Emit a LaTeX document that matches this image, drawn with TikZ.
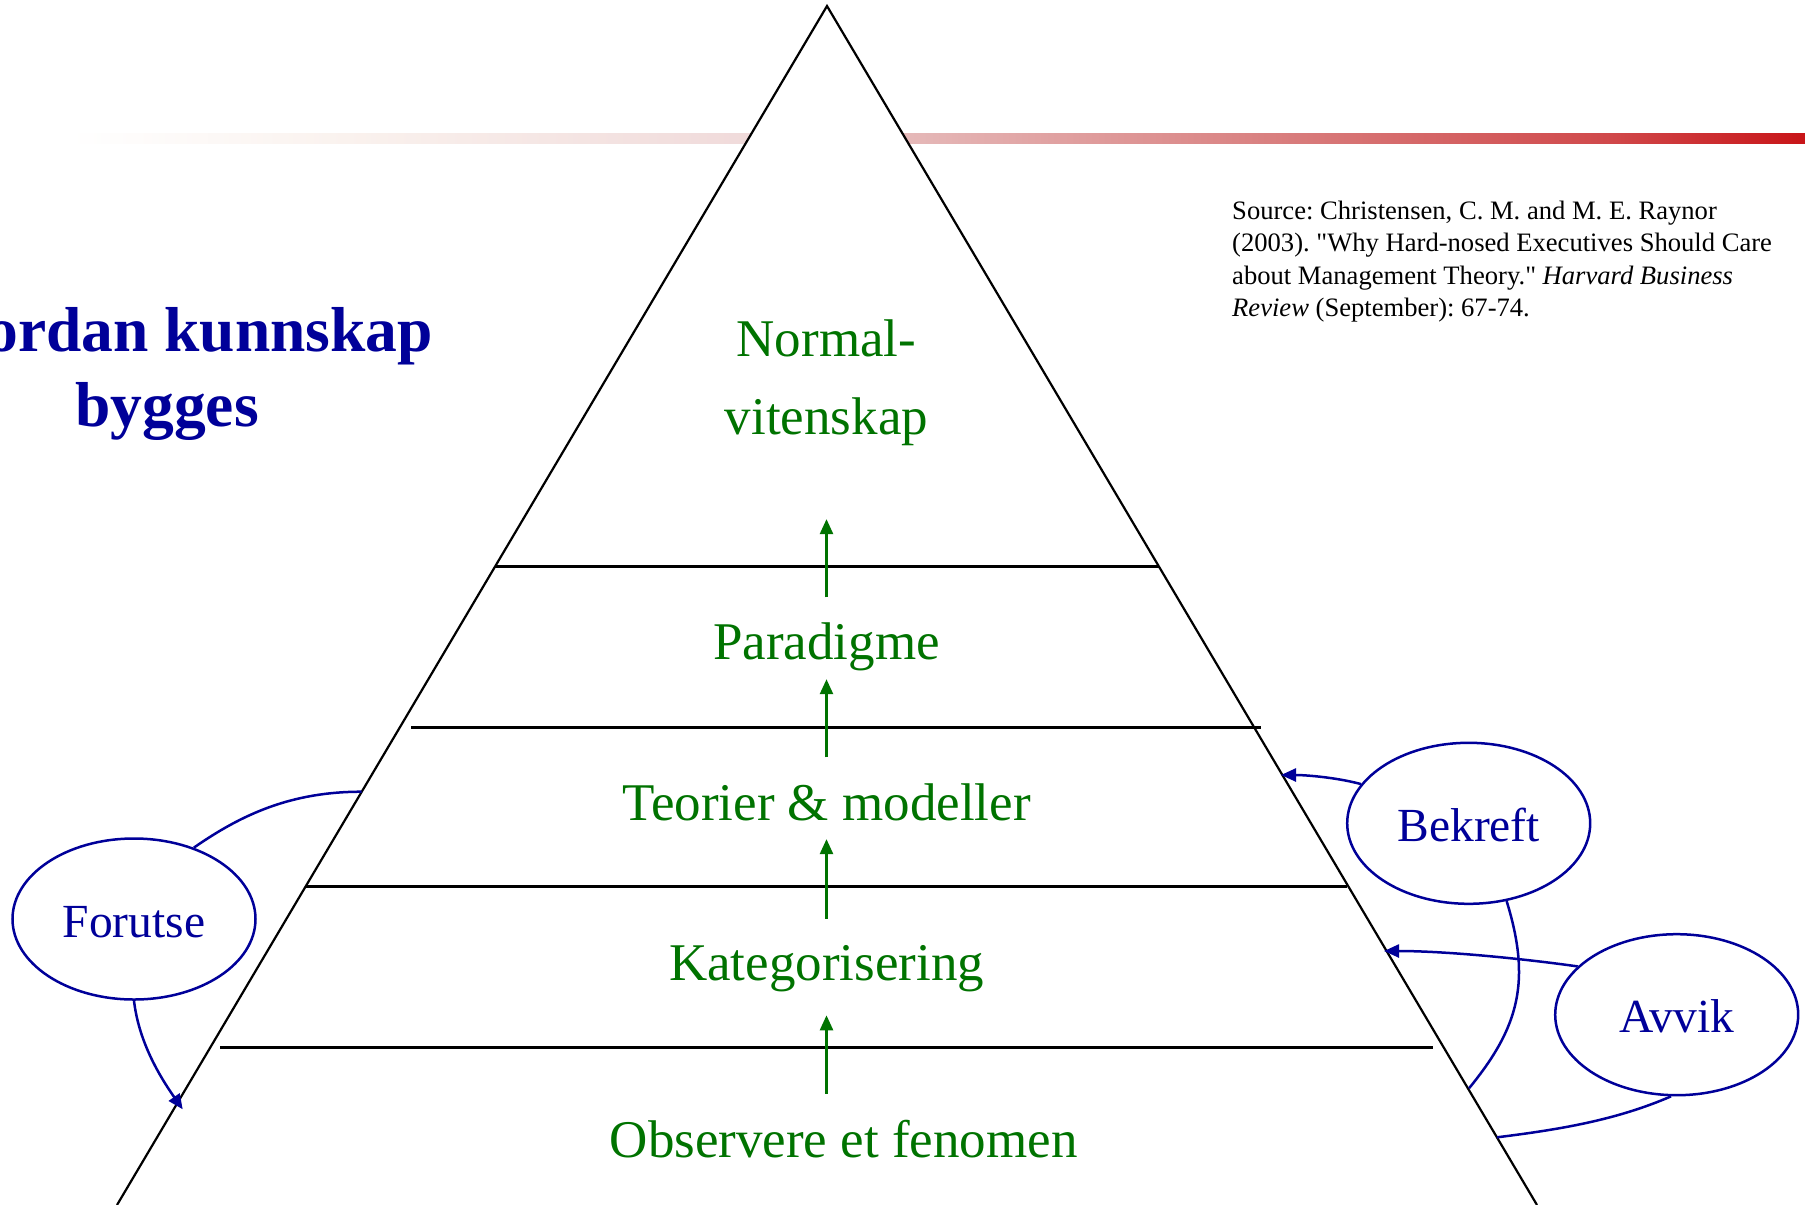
\documentclass[tikz,border=0pt]{standalone}
\usepackage{fontspec}
\setmainfont{Liberation Serif}
\newfontfamily\srcfont{Liberation Serif}
\usetikzlibrary{shapes.geometric,arrows.meta}
\definecolor{kgreen}{RGB}{0,115,0}
\definecolor{kblue}{RGB}{0,0,153}
\definecolor{barA}{RGB}{250,242,238}
\definecolor{barB}{RGB}{240,218,218}
\definecolor{barC}{RGB}{229,184,184}
\definecolor{barD}{RGB}{217,128,128}
\definecolor{barE}{RGB}{208,72,74}
\definecolor{barF}{RGB}{200,20,24}
\begin{document}
\begin{tikzpicture}[x=1pt,y=1pt,
  pyredge/.style={line width=2.2pt, black, line join=miter},
  levelline/.style={line width=3pt, black},
  grarrow/.style={line width=2.5pt, kgreen, -{Triangle[length=15pt,width=13pt]}},
  bluearrow/.style={line width=2.5pt, kblue, -{Triangle[length=15pt,width=13pt]}},
  blueline/.style={line width=2.5pt, kblue},
  ell/.style={ellipse, draw=kblue, line width=2.5pt, minimum width=243pt, minimum height=161pt, inner sep=0pt, text=kblue, text height=36pt, text depth=0pt, font=\fontsize{47.5}{57}\selectfont},
  lvltext/.style={text=kgreen, font=\fontsize{53}{64}\selectfont, inner sep=0pt, anchor=base},
  titletext/.style={text=kblue, font=\fontsize{63.5}{76}\selectfont\bfseries, inner sep=0pt},
]
\useasboundingbox (0,0) rectangle (1805,-1205);
\clip (0,0) rectangle (1805,-1205);
% gradient bar
\shade[left color=white, right color=barA] (69,-133) rectangle (346,-143);
\shade[left color=barA, right color=barB] (345,-133) rectangle (749,-143);
\shade[left color=barB, right color=barC] (748,-133) rectangle (911,-143);
\shade[left color=barC, right color=barD] (910,-133) rectangle (1267,-143);
\shade[left color=barD, right color=barE] (1266,-133) rectangle (1612,-143);
\shade[left color=barE, right color=barF] (1611,-133) rectangle (1805,-143);
% pyramid
\coordinate (apex) at (827,-6);
\coordinate (bl) at (117,-1205);
\coordinate (br) at (1537,-1205);
\fill[white] (bl) -- (apex) -- (br) -- cycle;
\draw[pyredge] (bl) -- (apex) -- (br);
% level lines
\coordinate (l1a) at (495,-566.4); \coordinate (l1b) at (1159,-566.4);
\coordinate (l2a) at (411,-727); \coordinate (l2b) at (1261,-727);
\coordinate (l3a) at (306,-886.5); \coordinate (l3b) at (1347,-886.5);
\coordinate (l4a) at (220,-1047); \coordinate (l4b) at (1433,-1047);
\draw[levelline] (l1a) -- (l1b);
\draw[levelline] (l2a) -- (l2b);
\draw[levelline] (l3a) -- (l3b);
\draw[levelline] (l4a) -- (l4b);
% level texts
\node[lvltext, align=center, font=\fontsize{53}{78}\selectfont, anchor=north] (norm) at (826.5,-319.5) {Normal-\\vitenskap};
\node[lvltext] (para) at (826.5,-659.6) {Paradigme};
\node[lvltext] (teori) at (826.5,-820.7) {Teorier \& modeller};
\node[lvltext] (kat) at (826.5,-980.7) {Kategorisering};
\node[lvltext] (obs) at (843.7,-1157) {Observere et fenomen};
% green arrows
\coordinate (g1s) at (826.5,-1093.5); \coordinate (g1e) at (826.5,-1015.3);
\coordinate (g2s) at (826.5,-918.6); \coordinate (g2e) at (826.5,-839.1);
\coordinate (g3s) at (826.5,-757.4); \coordinate (g3e) at (826.5,-679.2);
\coordinate (g4s) at (826.5,-597.4); \coordinate (g4e) at (826.5,-519.1);
\draw[grarrow] (g1s) -- (g1e);
\draw[grarrow] (g2s) -- (g2e);
\draw[grarrow] (g3s) -- (g3e);
\draw[grarrow] (g4s) -- (g4e);
% title
\node[titletext, anchor=base east] (title1) at (433,-351.7) {ordan kunnskap};
\node[titletext, anchor=base] (title2) at (167,-426.7) {bygges};
% source
\node[anchor=north west, inner sep=0pt, align=left, font=\srcfont\frenchspacing\fontsize{26.6}{32.3}\selectfont] (src) at (1232,-201) {Source: Christensen, C. M. and M. E. Raynor\\(2003). "Why Hard-nosed Executives Should Care\\about Management Theory." \textit{Harvard Business}\\\textit{Review} (September): 67-74.};
% ellipses
\node[ell] (forutse) at (134,-919) {Forutse};
\node[ell] (bekreft) at (1468.7,-823.3) {Bekreft};
\node[ell] (avvik) at (1676.7,-1014.7) {Avvik};
% connector end points on pyramid
\coordinate (fTop) at (361.7,-791.7);
\coordinate (fTip) at (182.7,-1109.3);
\coordinate (bTip) at (1281,-775);
\coordinate (bEnd) at (1469,-1088.3);
\coordinate (aTip) at (1384,-951);
\coordinate (aEnd) at (1497,-1137.3);
% connectors
\draw[blueline] (forutse.50) .. controls (242.4,-813.9) and (291.7,-791.7) .. (fTop);
\draw[bluearrow] (forutse.-90) .. controls (138.5,-1039.1) and (156.9,-1072.4) .. (fTip);
\draw[bluearrow] (bekreft.160) .. controls (1336.9,-777.5) and (1306,-775) .. (bTip);
\draw[blueline] (bekreft.-64) .. controls (1531.1,-980.4) and (1519.7,-1026.5) .. (bEnd);
\draw[bluearrow] (avvik.154) .. controls (1517.7,-958) and (1443.7,-951) .. (aTip);
\draw[blueline] (avvik.-94) .. controls (1616.2,-1120.1) and (1559.9,-1129.5) .. (aEnd);
\end{tikzpicture}
\end{document}
